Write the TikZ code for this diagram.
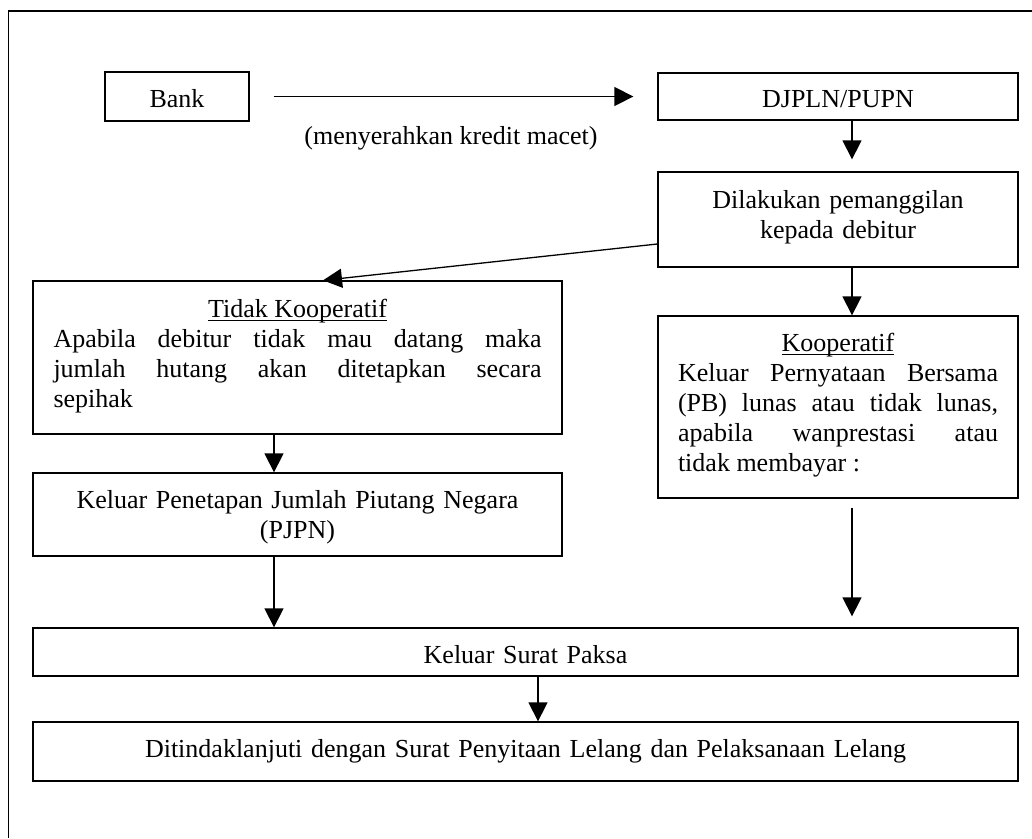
\documentclass[tikz,border=0pt]{standalone}
\usepackage{fontspec}
\setmainfont{Liberation Serif}
\usetikzlibrary{arrows.meta}
\newsavebox\ulbox
\newcommand\ulword[1]{\sbox\ulbox{#1}\rlap{\rule[-3.8pt]{\wd\ulbox}{1.2pt}}\usebox\ulbox}
\newcommand\fs{\fontsize{26pt}{30pt}\selectfont\hyphenpenalty=10000 }
\begin{document}
\begin{tikzpicture}[x=1pt,y=-1pt,
  box/.style={draw, line width=1.3pt, inner sep=0pt, anchor=base, align=center, font=\fs},
  arr/.style={-{Triangle[length=19pt,width=19pt]}, line width=1.3pt},
  frame/.style={line width=1.5pt}]
\useasboundingbox (0,0) rectangle (1032,838);
\draw[frame] (8.5,838) -- (8.5,11) -- (1032,11);

\node[box, text width=144pt, text height=35pt, text depth=14pt] (bank) at (177,107) {Bank};
\node[box, text width=360pt, text height=34pt, text depth=13pt] (djpln) at (838,107) {DJPLN/PUPN};
\node[font=\fs, inner sep=0pt, anchor=base] (lbl) at (451,144) {(menyerahkan kredit macet)};
\node[box, text width=360pt, text height=36pt, text depth=59pt] (dil) at (838,208) {Dilakukan pemanggilan\\kepada debitur};
\node[box, text width=488pt, inner xsep=20.5pt, text height=36pt, text depth=117pt, align=justify] (tidak) at (297.5,317)
  {{\centering\ulword{Tidak Kooperatif}\par}Apabila debitur tidak mau datang maka\linebreak jumlah hutang akan ditetapkan secara\linebreak sepihak};
\node[box, text width=529pt, text height=35pt, text depth=48pt] (pjpn) at (297.5,508) {Keluar Penetapan Jumlah Piutang Negara\\(PJPN)};
\node[box, text width=320pt, inner xsep=20pt, text height=35pt, text depth=147pt, align=justify] (koop) at (838,351)
  {{\centering\ulword{Kooperatif}\par}Keluar Pernyataan Bersama\linebreak (PB) lunas atau tidak lunas,\linebreak apabila wanprestasi atau\linebreak tidak membayar :};
\node[box, text width=985pt, text height=35pt, text depth=13pt] (surat) at (525.5,663) {Keluar Surat Paksa};
\node[box, text width=985pt, text height=35pt, text depth=24pt] (dit) at (525.5,757) {Ditindaklanjuti dengan Surat Penyitaan Lelang dan Pelaksanaan Lelang};

\draw[arr, shorten <=24pt, shorten >=24pt] (bank) -- (djpln);
\draw[arr, shorten >=12pt] ([xshift=14pt]djpln.south) -- ([xshift=14pt]dil.north);
\draw[arr] ([yshift=-24.5pt]dil.west) -- ([xshift=25.5pt]tidak.north);
\draw[arr] ([xshift=14pt]dil.south) -- ([xshift=14pt]koop.north);
\draw[arr] ([xshift=-23.5pt]tidak.south) -- ([xshift=-23.5pt]pjpn.north);
\draw[arr] ([xshift=-23.5pt]pjpn.south) -- ([xshift=-23.5pt]pjpn.south |- surat.north);
\draw[arr, shorten <=9pt, shorten >=11pt] ([xshift=14pt]koop.south) -- ([xshift=14pt]koop.south |- surat.north);
\draw[arr] ([xshift=12.5pt]surat.south) -- ([xshift=12.5pt]dit.north);
\end{tikzpicture}
\end{document}
